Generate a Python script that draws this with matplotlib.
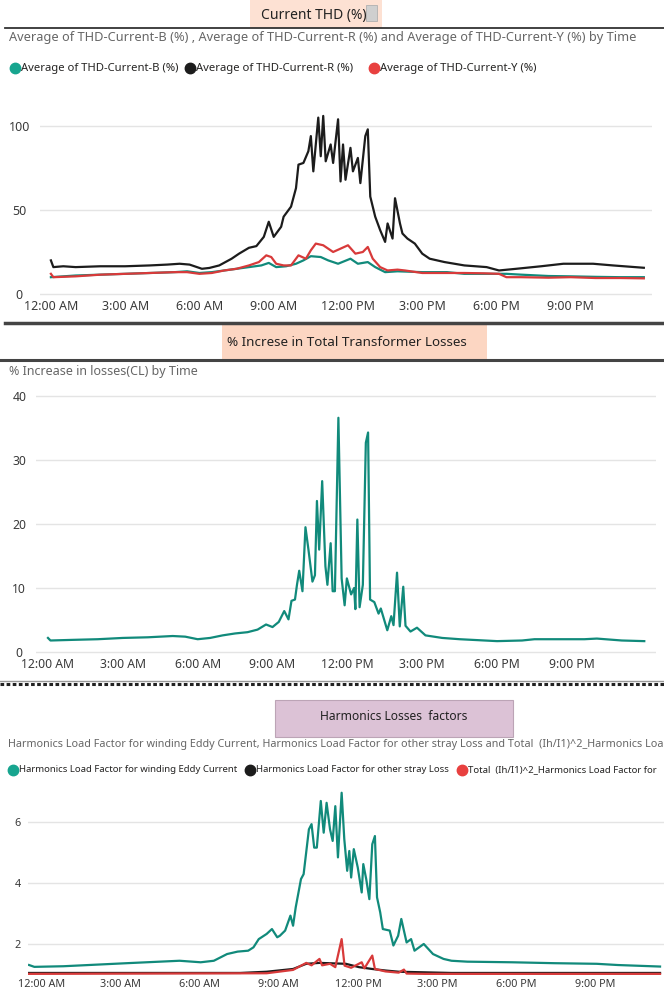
import numpy as np
import matplotlib.pyplot as plt
from matplotlib.lines import Line2D
from matplotlib.patches import Rectangle

plt.rcParams['font.family'] = ['Noto Sans', 'DejaVu Sans']

# ---- data (hours after midnight) ----
thd_r_h = [0, 0.1, 0.5, 1, 2, 3, 4, 4.7, 5.2, 5.6,
           5.9, 6.1, 6.4, 6.8, 7.3, 7.6, 8.0, 8.3, 8.6, 8.8,
           9.0, 9.3, 9.4, 9.7, 9.9, 10.0, 10.2, 10.4, 10.5, 10.6,
           10.8, 10.9, 11.0, 11.1, 11.3, 11.4, 11.6, 11.7, 11.8, 11.9,
           12.1, 12.2, 12.4, 12.5, 12.7, 12.8, 12.9, 13.1, 13.3, 13.5,
           13.6, 13.8, 13.9, 14.1, 14.2, 14.4, 14.7, 15.0, 15.3, 15.9,
           16.7, 17.6, 18.1, 18.8, 19.8, 20.7, 21.9, 22.7, 23.95]
thd_r = [20, 16, 16.5, 16, 16.5, 16.5, 17, 17.5, 18, 17.5,
         16, 15, 15.5, 17, 21, 24, 27.5, 28.5, 34, 43,
         34, 40, 46, 52, 63, 77, 78, 85, 94, 73,
         105, 82, 106, 79, 89, 78, 104, 67, 89, 68,
         87, 73, 81, 66, 94, 98, 58, 46, 38, 31,
         42, 33, 57, 42, 36, 33, 30, 24, 21, 19,
         17, 16, 14, 15, 16.5, 18, 18, 17, 15.6]

thd_y_h = [0, 0.1, 1, 2, 3, 4, 5, 5.5, 6, 6.5,
           7, 7.5, 8, 8.4, 8.7, 8.9, 9.1, 9.4, 9.7, 10.0,
           10.3, 10.5, 10.7, 11.0, 11.2, 11.4, 11.7, 12.0, 12.3, 12.6,
           12.8, 13.0, 13.3, 13.6, 14.0, 14.3, 15.0, 16.0, 16.7, 17.5,
           18.1, 18.4, 19.0, 20.1, 21.0, 22.0, 23.0, 23.95]
thd_y = [12, 10, 10.5, 11.5, 12, 12.5, 13, 13, 12, 12.5,
         14, 15, 17, 19, 23, 22, 18, 17, 17, 23,
         21, 26, 30, 29, 27, 25, 27, 29, 24, 25,
         28, 21, 16, 14, 14.5, 14, 12.5, 12.5, 12.5, 12.3,
         12, 10, 10, 9.7, 10, 9.5, 9.5, 9.3]

thd_b_h = [0, 1, 2, 3, 4, 5, 5.5, 6, 6.5, 7,
           7.5, 8, 8.5, 8.8, 9.1, 9.5, 9.9, 10.2, 10.5, 10.9,
           11.2, 11.6, 12.1, 12.4, 12.8, 13.1, 13.5, 14.0, 15.0, 16.0,
           16.7, 17.5, 18.4, 19.0, 20.1, 21.0, 22.0, 23.0, 23.95]
thd_b = [10, 11, 11.5, 12, 12.5, 13, 13.5, 12.5, 13, 14,
         15, 16, 17, 18.5, 16, 16.5, 18, 20, 22.5, 22,
         20, 18, 21, 18, 19, 16, 13, 13.5, 13, 13,
         12, 12, 12, 11.5, 10.7, 10.5, 10.2, 10, 10]

loss_h = [0, 0.1, 1, 2, 3, 4, 5, 5.5, 6, 6.5,
          7, 7.5, 8, 8.4, 8.74, 9.0, 9.25, 9.47, 9.64, 9.76,
          9.9, 9.98, 10.07, 10.2, 10.32, 10.44, 10.6, 10.7, 10.78, 10.87,
          10.99, 11.12, 11.2, 11.33, 11.41, 11.5, 11.64, 11.77, 11.89, 11.98,
          12.15, 12.27, 12.32, 12.4, 12.49, 12.62, 12.74, 12.83, 12.91, 13.08,
          13.25, 13.34, 13.6, 13.76, 13.85, 13.99, 14.1, 14.24, 14.33, 14.53,
          14.79, 15.13, 15.8, 16.5, 17.0, 18.0, 19.0, 19.5, 20.5, 21.5,
          22.0, 23.0, 23.9]
loss_cl = [2.2, 1.8, 1.9, 2.0, 2.2, 2.3, 2.5, 2.4, 2.0, 2.2,
           2.6, 2.9, 3.1, 3.5, 4.3, 3.9, 4.7, 6.4, 5.1, 8.0,
           8.2, 10.5, 12.7, 9.5, 19.5, 16, 11, 12, 23.6, 16,
           26.7, 13.4, 10.5, 17, 9.5, 9.5, 36.6, 11.5, 7.3, 11.5,
           9, 10, 6.7, 20.7, 7, 10.5, 32.7, 34.3, 8.2, 7.8,
           6, 6.8, 3.4, 5.6, 4.2, 12.4, 4, 10.2, 4.1, 3.2,
           3.8, 2.6, 2.2, 2.0, 1.9, 1.7, 1.8, 2.0, 2.0, 2.0,
           2.1, 1.8, 1.7]

eddy_h = [0, 0.2, 1.3, 3.7, 5.7, 6.5, 7, 7.5, 7.9, 8.3,
          8.5, 8.7, 9.0, 9.2, 9.4, 9.5, 9.7, 9.9, 10.0, 10.1,
          10.3, 10.4, 10.6, 10.7, 10.8, 10.9, 11.05, 11.16, 11.27, 11.4,
          11.5, 11.6, 11.7, 11.84, 11.94, 12.05, 12.13, 12.2, 12.3, 12.45,
          12.6, 12.66, 12.77, 12.89, 13.0, 13.1, 13.18, 13.3, 13.4, 13.66,
          13.8, 13.98, 14.1, 14.3, 14.47, 14.6, 14.95, 15.3, 15.7, 16.0,
          16.6, 18.3, 19.9, 21.5, 22.3, 23.9]
eddy = [1.31, 1.25, 1.27, 1.37, 1.45, 1.40, 1.45, 1.67, 1.75, 1.78,
        1.89, 2.16, 2.33, 2.49, 2.22, 2.27, 2.44, 2.93, 2.6, 3.2,
        4.13, 4.29, 5.76, 5.93, 5.16, 5.16, 6.69, 5.65, 6.63, 5.76,
        5.38, 6.52, 4.84, 6.96, 5.44, 4.4, 5.05, 4.18, 5.11, 4.51,
        3.69, 4.62, 4.13, 3.47, 5.27, 5.54, 3.53, 3.04, 2.49, 2.44,
        1.95, 2.27, 2.82, 2.05, 2.16, 1.78, 2.0, 1.67, 1.51, 1.45,
        1.42, 1.40, 1.37, 1.35, 1.31, 1.26]

stray_h = [0, 8, 9, 10, 10.5, 11, 12, 12.5, 13, 13.5, 14, 15, 16, 23.9]
stray = [1.05, 1.05, 1.09, 1.18, 1.35, 1.38, 1.35, 1.24, 1.18, 1.13, 1.09, 1.07, 1.05, 1.05]

total_h = [0, 9, 10, 10.5, 10.7, 11.0, 11.1, 11.4, 11.6, 11.84,
           11.95, 12.2, 12.6, 12.7, 13.0, 13.1, 13.5, 14.0, 14.2, 14.3,
           15, 23.9]
total = [1.02, 1.04, 1.15, 1.38, 1.30, 1.51, 1.30, 1.35, 1.24, 2.16,
         1.29, 1.22, 1.40, 1.20, 1.62, 1.18, 1.10, 1.06, 1.16, 1.03,
         1.02, 1.02]

tick_labels = ['12:00 AM', '3:00 AM', '6:00 AM', '9:00 AM',
               '12:00 PM', '3:00 PM', '6:00 PM', '9:00 PM']

teal = '#118a7b'
black = '#1c1c1c'
red = '#d83a3a'

W, H = 664, 990
fig = plt.figure(figsize=(W / 100, H / 100), dpi=100)


def box(l, t, r, b):
    return [l / W, 1 - b / H, (r - l) / W, (b - t) / H]


def ftext(x, y, s, **kw):
    fig.text(x / W, 1 - y / H, s, **kw)


def hline(x0, x1, y, **kw):
    fig.add_artist(Line2D([x0 / W, x1 / W], [1 - y / H, 1 - y / H],
                          transform=fig.transFigure, **kw))


def rect(l, t, r, b, **kw):
    fig.add_artist(Rectangle((l / W, 1 - b / H), (r - l) / W, (b - t) / H,
                             transform=fig.transFigure, **kw))


def legend_item(x, y, color, label, fs):
    fig.add_artist(Line2D([x / W], [1 - y / H], marker='o', ms=7.5, color=color,
                          transform=fig.transFigure))
    ftext(x + 6, y, label, fontsize=fs, color='#252423', va='center')


def style(ax, yticks, ylim, xlim, tick0, ypad, xpad, fs):
    ax.set_xlim(xlim)
    ax.set_ylim(ylim)
    ax.set_yticks(yticks)
    ax.set_xticks([tick0 + 3 * i for i in range(8)])
    ax.set_xticklabels(tick_labels)
    for s in ax.spines.values():
        s.set_visible(False)
    ax.yaxis.grid(True, color='#e4e4e4', lw=1)
    ax.set_axisbelow(True)
    ax.tick_params(length=0, labelsize=fs, colors='#3a3a3a')
    ax.tick_params(axis='y', pad=ypad)
    ax.tick_params(axis='x', pad=xpad)
    for t in ax.get_yticklabels():
        t.set_horizontalalignment('center')


# ---- panel 1: current THD ----
rect(250, 0, 382, 28, facecolor='#fde1d3', edgecolor='none')
ftext(314, 16, 'Current THD (%)', fontsize=10, ha='center', va='center', color='#222222')
rect(366, 5, 377, 21, facecolor='#cfcfcf', edgecolor='#b0b0b0', lw=0.6)
hline(5, 664, 28, color='#333333', lw=1.3)
ftext(9, 38, 'Average of THD-Current-B (%) , Average of THD-Current-R (%) and '
      'Average of THD-Current-Y (%) by Time', fontsize=9.2, color='#666666', va='center')
legend_item(15, 68, '#17a58f', 'Average of THD-Current-B (%)', 8.1)
legend_item(190, 68, black, 'Average of THD-Current-R (%)', 8.1)
legend_item(374, 68, '#e8403f', 'Average of THD-Current-Y (%)', 8.1)

ax1 = fig.add_axes(box(40, 105, 652, 296))
ax1.plot(thd_b_h, thd_b, color=teal, lw=1.6)
ax1.plot(thd_r_h, thd_r, color=black, lw=1.6)
ax1.plot(thd_y_h, thd_y, color=red, lw=1.6)
style(ax1, [0, 50, 100], (-1.2, 112.5), (-0.44, 24.28), 0, 15, 3, 9)

hline(5, 664, 323, color='#444444', lw=2.5)

# ---- panel 2: % increase in losses ----
rect(222, 324, 487, 359, facecolor='#fcd6c2', edgecolor='none')
ftext(347, 342, '% Increse in Total Transformer Losses', fontsize=9.7, ha='center',
      va='center', color='#222222')
hline(0, 664, 360, color='#444444', lw=2.2)
ftext(9, 372, '% Increase in losses(CL) by Time', fontsize=9, color='#666666', va='center')

ax2 = fig.add_axes(box(36, 390, 656, 654))
ax2.plot(loss_h, loss_cl, color=teal, lw=1.6)
style(ax2, [0, 10, 20, 30, 40], (-0.31, 40.94), (-0.48, 24.37), 0, 12, 3, 8.8)

hline(0, 664, 681, color='#999999', lw=1)
hline(0, 664, 684, color='#222222', lw=2.2, dashes=(1.2, 0.8))

# ---- panel 3: harmonics losses factors ----
rect(275, 700, 513, 737, facecolor='#dcc2d6', edgecolor='#bca4b6', lw=0.8)
ftext(394, 717, 'Harmonics Losses  factors', fontsize=8.7, ha='center', va='center',
      color='#222222')
ftext(8, 745, 'Harmonics Load Factor for winding Eddy Current, Harmonics Load Factor '
      'for other stray Loss and Total  (Ih/I1)^2_Harmonics Loa',
      fontsize=7.8, color='#666666', va='center')
legend_item(13, 770, '#17a58f', 'Harmonics Load Factor for winding Eddy Current', 6.9)
legend_item(250, 770, black, 'Harmonics Load Factor for other stray Loss', 6.9)
legend_item(462, 770, '#e8403f', 'Total  (Ih/I1)^2_Harmonics Load Factor for', 6.9)

ax3 = fig.add_axes(box(28, 790, 664, 976))
ax3.plot(eddy_h, eddy, color=teal, lw=1.6)
ax3.plot(stray_h, stray, color=black, lw=1.6)
ax3.plot(total_h, total, color=red, lw=1.6)
style(ax3, [2, 4, 6], (0.95, 7.05), (-0.04, 24.05), 0.46, 7.5, 2, 7.8)

fig.savefig('out.png', dpi=100)
